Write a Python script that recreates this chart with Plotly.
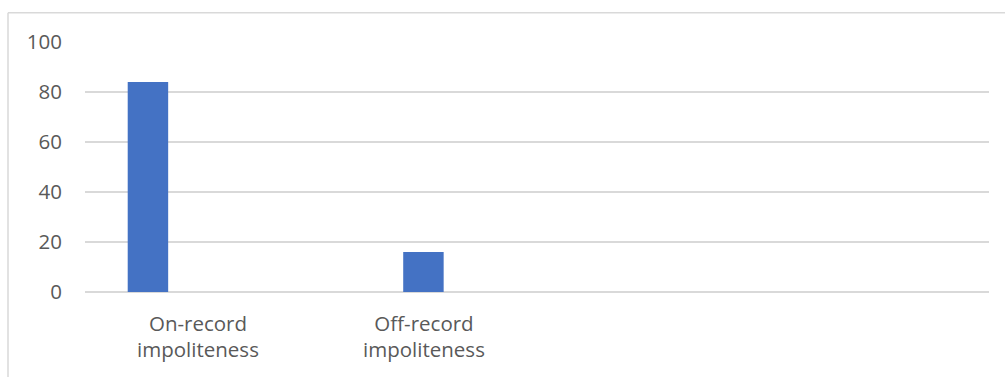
import plotly.graph_objects as go

# Impoliteness strategies (percent)
categories = ["On-record<br>impoliteness", "Off-record<br>impoliteness", "", ""]
values = [84, 16]
y_ticks = [0, 20, 40, 60, 80, 100]

BAR_COLOR = "#4472C4"
GRID_COLOR = "#D9D9D9"
TEXT_COLOR = "#595959"
FONT = "Open Sans"
FONT_SIZE = 20.5

bar_width = 0.179
bar_offsets = [-0.311, -0.092]

fig = go.Figure()
fig.add_trace(go.Bar(
    x=list(range(len(values))),
    y=values,
    width=bar_width,
    offset=bar_offsets,
    marker=dict(color=BAR_COLOR, line=dict(width=0)),
    hoverinfo="skip",
))

fig.update_layout(
    width=1005,
    height=377,
    margin=dict(l=85, r=16, t=42, b=85),
    paper_bgcolor="white",
    plot_bgcolor="white",
    showlegend=False,
    font=dict(family=FONT, size=FONT_SIZE, color=TEXT_COLOR),
    xaxis=dict(
        range=[-0.5, len(categories) - 0.5],
        tickmode="array",
        tickvals=list(range(len(categories))),
        ticktext=categories,
        showgrid=False,
        zeroline=False,
        showline=False,
        ticks="",
        ticklabelstandoff=17,
        tickfont=dict(family=FONT, size=FONT_SIZE, color=TEXT_COLOR),
        fixedrange=True,
    ),
    yaxis=dict(
        range=[0, 100],
        tickmode="array",
        tickvals=y_ticks,
        ticktext=[str(v) for v in y_ticks],
        showgrid=True,
        gridcolor=GRID_COLOR,
        gridwidth=1.5,
        zeroline=True,
        zerolinecolor=GRID_COLOR,
        zerolinewidth=1.5,
        showline=False,
        ticks="",
        ticklabelstandoff=22,
        tickfont=dict(family=FONT, size=FONT_SIZE, color=TEXT_COLOR),
        fixedrange=True,
    ),
    shapes=[
        # chart-area frame (top and left edges)
        dict(type="line", xref="paper", yref="paper",
             x0=(8 - 85) / 904, x1=1.03, y0=(292 - 12.7) / 250, y1=(292 - 12.7) / 250,
             line=dict(color=GRID_COLOR, width=1.5)),
        dict(type="line", xref="paper", yref="paper",
             x0=(8 - 85) / 904, x1=(8 - 85) / 904, y0=(292 - 12.7) / 250, y1=-0.4,
             line=dict(color=GRID_COLOR, width=1.5)),
    ],
)

fig.write_html("out.html", config={"displayModeBar": False})
